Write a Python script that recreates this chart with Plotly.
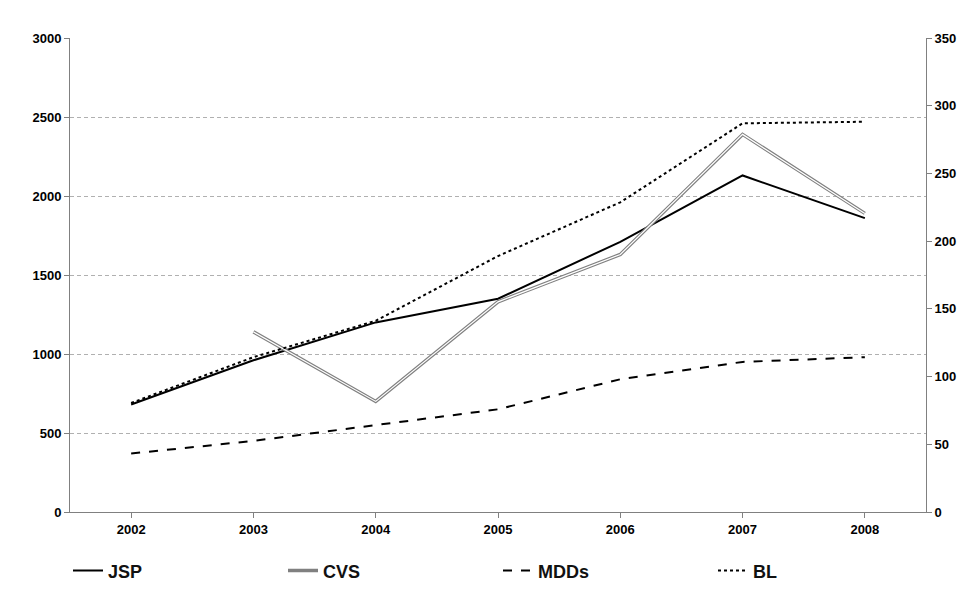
import plotly.graph_objects as go

years = [2002, 2003, 2004, 2005, 2006, 2007, 2008]
jsp = [680, 960, 1200, 1350, 1710, 2130, 1860]
cvs_years = [2003, 2004, 2005, 2006, 2007, 2008]
cvs = [1140, 700, 1330, 1630, 2390, 1890]
mdds = [370, 450, 550, 650, 840, 950, 980]
bl = [690, 980, 1210, 1620, 1960, 2460, 2470]

fig = go.Figure()
fig.add_trace(go.Scatter(x=years, y=jsp, name="<b>JSP</b>", mode="lines",
                         line=dict(color="black", width=2)))
fig.add_trace(go.Scatter(x=cvs_years, y=cvs, name="<b>CVS</b>", mode="lines",
                         line=dict(color="#808080", width=3.5)))
fig.add_trace(go.Scatter(x=cvs_years, y=cvs, mode="lines", showlegend=False,
                         hoverinfo="skip", line=dict(color="white", width=1.2)))
fig.add_trace(go.Scatter(x=years, y=mdds, name="<b>MDDs</b>", mode="lines",
                         line=dict(color="black", width=2, dash="dash")))
fig.add_trace(go.Scatter(x=years, y=bl, name="<b>BL</b>", mode="lines",
                         line=dict(color="black", width=2, dash="dot")))
fig.add_trace(go.Scatter(x=years, y=[None]*7, yaxis="y2", showlegend=False, hoverinfo="skip"))

tf = dict(family="Liberation Sans", size=13, color="black", weight="bold")
fig.update_layout(
    width=976, height=597, paper_bgcolor="white", plot_bgcolor="white",
    margin=dict(l=62, r=58, t=30, b=93, autoexpand=False),
    xaxis=dict(range=[2001.5, 2008.5], tickvals=years, showline=True, linecolor="#808080",
               ticks="outside", tickcolor="#808080", ticklen=5, showgrid=False, tickfont=tf),
    yaxis=dict(range=[0, 3000], dtick=500, showline=True, linecolor="#808080",
               ticks="outside", tickcolor="#808080", ticklen=5,
               gridcolor="#b0b0b0", griddash="4px,3px", gridwidth=1, zeroline=False, tickfont=tf),
    yaxis2=dict(range=[0, 350], dtick=50, overlaying="y", side="right", showline=True,
                linecolor="#808080", ticks="outside", tickcolor="#808080", ticklen=5,
                showgrid=False, zeroline=False, tickfont=tf),
    legend=dict(orientation="h", x=0.5, xanchor="center", y=-0.085, yanchor="top",
                font=dict(family="Liberation Sans", size=18, color="#111"),
                entrywidth=170, entrywidthmode="pixels"),
)
fig.write_html("out.html")
